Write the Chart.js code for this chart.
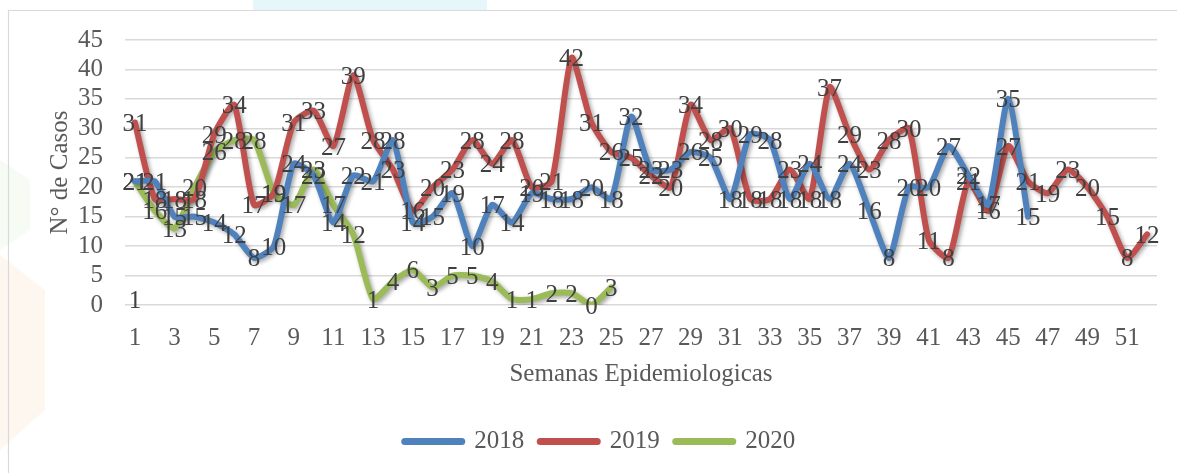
<!DOCTYPE html>
<html>
<head>
<meta charset="utf-8">
<script src="https://cdn.jsdelivr.net/npm/chart.js@4.4.1/dist/chart.umd.min.js"></script>
<style>
  html, body { margin: 0; padding: 0; background: #ffffff; }
  #wrap { width: 1177px; height: 473px; position: relative; }
</style>
</head>
<body>
<div id="wrap"><canvas id="c" width="1177" height="473"></canvas></div>
<script>
const weeks = ["1","2","3","4","5","6","7","8","9","10","11","12","13","14","15","16","17","18","19","20","21","22","23","24","25","26","27","28","29","30","31","32","33","34","35","36","37","38","39","40","41","42","43","44","45","46","47","48","49","50","51","52"];
const xTickLabels = ["1","3","5","7","9","11","13","15","17","19","21","23","25","27","29","31","33","35","37","39","41","43","45","47","49","51"];
const yTicks = [0,5,10,15,20,25,30,35,40,45];
const cases2018 = [21,21,15,15,14,12,8,10,24,22,14,22,21,28,14,15,19,10,17,14,19,18,18,20,18,32,23,23,26,25,18,29,28,18,24,18,24,16,8,20,20,27,22,17,35,15];
const cases2019 = [31,18,18,18,29,34,17,19,31,33,27,39,28,23,16,20,23,28,24,28,20,21,42,31,26,25,22,20,34,28,30,18,18,23,18,37,29,23,28,30,11,8,21,16,27,21,19,23,20,15,8,12];
const cases2020 = [21,16,13,20,26,28,28,19,17,23,17,12,1,4,6,3,5,5,4,1,1,2,2,0,3];
const strayLabel = [1];
const seriesNames = ["2018","2019","2020"];
const seriesColors = ["#4F81BD","#C0504D","#9BBB59"];

const FONT = "'Liberation Serif', 'Times New Roman', serif";

const bgPlugin = {
  id: 'bg',
  beforeDraw(chart) {
    const ctx = chart.ctx;
    ctx.save();
    ctx.fillStyle = '#ffffff';
    ctx.fillRect(0, 0, chart.width, chart.height);
    ctx.fillStyle = 'rgba(200,235,245,0.45)';
    ctx.fillRect(253, 0, 234, 11);
    ctx.fillStyle = 'rgba(170,215,150,0.10)';
    ctx.beginPath(); ctx.moveTo(0,160); ctx.lineTo(30,180); ctx.lineTo(30,230); ctx.lineTo(0,250); ctx.closePath(); ctx.fill();
    ctx.fillStyle = 'rgba(250,190,130,0.12)';
    ctx.beginPath(); ctx.moveTo(0,255); ctx.lineTo(45,290); ctx.lineTo(45,410); ctx.lineTo(0,450); ctx.closePath(); ctx.fill();
    ctx.strokeStyle = '#d9d9d9';
    ctx.lineWidth = 1.2;
    ctx.beginPath();
    ctx.moveTo(8.5, 473); ctx.lineTo(8.5, 10.5); ctx.lineTo(1177, 10.5);
    ctx.stroke();
    ctx.restore();
  }
};

const shadowPlugin = {
  id: 'shadow',
  beforeDatasetDraw(chart) {
    const ctx = chart.ctx;
    ctx.save();
    ctx.shadowColor = 'rgba(0,0,0,0.35)';
    ctx.shadowBlur = 4;
    ctx.shadowOffsetX = 2;
    ctx.shadowOffsetY = 2;
  },
  afterDatasetDraw(chart) {
    chart.ctx.restore();
  }
};

const labelPlugin = {
  id: 'dlabels',
  afterDatasetsDraw(chart) {
    const ctx = chart.ctx;
    ctx.save();
    ctx.font = "25px " + FONT;
    ctx.fillStyle = '#404040';
    ctx.textAlign = 'center';
    ctx.textBaseline = 'middle';
    chart.data.datasets.forEach((ds, i) => {
      const meta = chart.getDatasetMeta(i);
      meta.data.forEach((pt, j) => {
        const v = ds.data[j];
        if (v === null || v === undefined) return;
        ctx.fillText(String(v), pt.x, pt.y + 2);
      });
    });
    ctx.restore();
  }
};

const datasets = [cases2018, cases2019, cases2020].map((d, i) => ({
  label: seriesNames[i],
  data: d,
  borderColor: seriesColors[i],
  backgroundColor: seriesColors[i],
  borderWidth: 6,
  pointRadius: 0,
  tension: 0.2,
  borderCapStyle: 'round',
  borderJoinStyle: 'round',
  fill: false
}));
datasets.push({
  label: 'extra',
  data: strayLabel,
  showLine: false,
  pointRadius: 0,
  borderColor: 'rgba(0,0,0,0)',
  backgroundColor: 'rgba(0,0,0,0)'
});

new Chart(document.getElementById('c'), {
  type: 'line',
  data: { labels: weeks, datasets },
  plugins: [bgPlugin, shadowPlugin, labelPlugin],
  options: {
    responsive: false,
    animation: false,
    layout: { padding: { left: 43, right: 20, top: 40, bottom: 9 } },
    plugins: {
      tooltip: { enabled: false },
      legend: {
        position: 'bottom',
        labels: {
          filter: (item) => item.text !== 'extra',
          usePointStyle: true,
          pointStyleWidth: 57,
          padding: 16,
          color: '#595959',
          font: { family: FONT, size: 25 },
          generateLabels: (chart) => chart.data.datasets.map((ds, i) => ({
            text: ds.label,
            strokeStyle: ds.borderColor,
            fillStyle: ds.borderColor,
            lineWidth: 7,
            lineCap: 'round',
            pointStyle: 'line',
            hidden: false,
            datasetIndex: i,
            fontColor: '#595959'
          }))
        }
      }
    },
    scales: {
      x: {
        offset: true,
        grid: { display: false, drawTicks: false },
        border: { display: false },
        ticks: {
          autoSkip: false,
          maxRotation: 0,
          padding: 18,
          color: '#595959',
          font: { family: FONT, size: 25 },
          callback: function(value) {
            const l = this.getLabelForValue(value);
            return xTickLabels.includes(l) ? l : '';
          }
        },
        title: {
          display: true,
          text: 'Semanas Epidemiologicas',
          color: '#595959',
          font: { family: FONT, size: 25 },
          padding: { top: 8, bottom: 24 }
        },
        afterFit: (s) => { s.height = 108; }
      },
      y: {
        min: 0,
        max: 45,
        afterBuildTicks: (s) => { s.ticks = yTicks.map(v => ({ value: v })); },
        grid: { color: '#d9d9d9', lineWidth: 1.5, drawTicks: false },
        border: { display: false },
        ticks: {
          autoSkip: false,
          stepSize: 5,
          padding: 22,
          color: '#595959',
          font: { family: FONT, size: 25 }
        },
        title: {
          display: true,
          text: 'N° de Casos',
          color: '#595959',
          font: { family: FONT, size: 25 },
          padding: { top: 2, bottom: 0 }
        },
        afterFit: (s) => { s.width = 82; }
      }
    }
  }
});
</script>
</body>
</html>
